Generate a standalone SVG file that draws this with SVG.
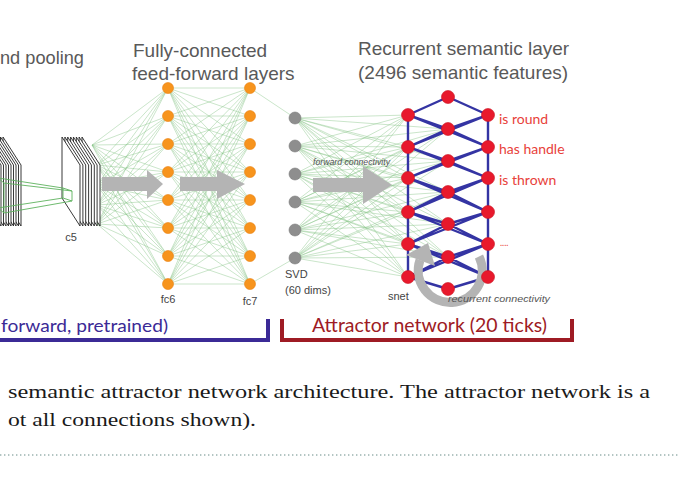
<svg xmlns="http://www.w3.org/2000/svg" width="680" height="500" viewBox="0 0 680 500">
<style>
.lbl{font-family:"Liberation Sans",Arial,sans-serif;font-size:19px;fill:#595959}
.sm{font-family:"Liberation Sans",Arial,sans-serif;font-size:11px;fill:#444}
.it{font-family:"Liberation Sans",Arial,sans-serif;font-size:9.5px;font-style:italic;fill:#555}
.feat{font-family:Lato,"Open Sans",sans-serif;font-size:14px;fill:#e8413a}
.cap{font-family:"Liberation Serif","Times New Roman",serif;font-size:19px;fill:#1a1a1a}
.grn{fill:none;stroke:#86c486;stroke-width:0.8;stroke-opacity:0.55}
.sheet{fill:#fff;stroke:#222;stroke-width:0.9}
.fc{fill:#f7941d;stroke:#e9800f;stroke-width:0.6}
.svd{fill:#8e8e8e;stroke:#7a7a7a;stroke-width:0.6}
.red{fill:#e8192c;stroke:#c8101f;stroke-width:0.6}
.lat{fill:none;stroke:#3434a3;stroke-width:2.4;stroke-linecap:round}
.garrow{fill:#b4b4b4}
</style>
<defs>
<polygon id="sheet" class="sheet" points="0,137 0,198 18,226 18,165"/>
</defs>
<rect width="680" height="500" fill="#fff"/>

<!-- connectors -->
<g id="connectors">
<path class="grn" d="M92 145 168 88M92 145 168 116M92 145 168 144M92 145 168 172M92 145 168 200M92 145 168 228M92 145 168 256M92 145 168 284
M97 165 168 88M97 165 168 116M97 165 168 144M97 165 168 172M97 165 168 200M97 165 168 228M97 165 168 256M97 165 168 284
M97 185 168 88M97 185 168 116M97 185 168 144M97 185 168 172M97 185 168 200M97 185 168 228M97 185 168 256M97 185 168 284
M97 205 168 88M97 205 168 116M97 205 168 144M97 205 168 172M97 205 168 200M97 205 168 228M97 205 168 256M97 205 168 284
M97 224 168 88M97 224 168 116M97 224 168 144M97 224 168 172M97 224 168 200M97 224 168 228M97 224 168 256M97 224 168 284"/>
<path class="grn" d="M168 88 250 88M168 88 250 116M168 88 250 144M168 88 250 172M168 88 250 200M168 88 250 228M168 88 250 256M168 88 250 284
M168 116 250 88M168 116 250 116M168 116 250 144M168 116 250 172M168 116 250 200M168 116 250 228M168 116 250 256M168 116 250 284
M168 144 250 88M168 144 250 116M168 144 250 144M168 144 250 172M168 144 250 200M168 144 250 228M168 144 250 256M168 144 250 284
M168 172 250 88M168 172 250 116M168 172 250 144M168 172 250 172M168 172 250 200M168 172 250 228M168 172 250 256M168 172 250 284
M168 200 250 88M168 200 250 116M168 200 250 144M168 200 250 172M168 200 250 200M168 200 250 228M168 200 250 256M168 200 250 284
M168 228 250 88M168 228 250 116M168 228 250 144M168 228 250 172M168 228 250 200M168 228 250 228M168 228 250 256M168 228 250 284
M168 256 250 88M168 256 250 116M168 256 250 144M168 256 250 172M168 256 250 200M168 256 250 228M168 256 250 256M168 256 250 284
M168 284 250 88M168 284 250 116M168 284 250 144M168 284 250 172M168 284 250 200M168 284 250 228M168 284 250 256M168 284 250 284"/>
<path class="grn" d="M250 88 295 118M250 284 295 258"/>
<path class="grn" d="M295 118 408 115M295 118 408 147M295 118 408 178M295 118 408 212M295 118 408 244M295 118 408 277
M295 146 408 115M295 146 408 147M295 146 408 178M295 146 408 212M295 146 408 244M295 146 408 277
M295 174 408 115M295 174 408 147M295 174 408 178M295 174 408 212M295 174 408 244M295 174 408 277
M295 202 408 115M295 202 408 147M295 202 408 178M295 202 408 212M295 202 408 244M295 202 408 277
M295 230 408 115M295 230 408 147M295 230 408 178M295 230 408 212M295 230 408 244M295 230 408 277
M295 258 408 115M295 258 408 147M295 258 408 178M295 258 408 212M295 258 408 244M295 258 408 277
M295 118 448 129M295 118 448 161M295 118 448 192M295 118 448 224M295 118 448 257
M295 146 448 129M295 146 448 161M295 146 448 192M295 146 448 224M295 146 448 257
M295 174 448 129M295 174 448 161M295 174 448 192M295 174 448 224M295 174 448 257
M295 202 448 129M295 202 448 161M295 202 448 192M295 202 448 224M295 202 448 257
M295 230 448 129M295 230 448 161M295 230 448 192M295 230 448 224M295 230 448 257
M295 258 448 129M295 258 448 161M295 258 448 192M295 258 448 224M295 258 448 257"/>
<!-- big gray arrows -->
<polygon class="garrow" points="102,177 147,177 147,170 163,184 147,199 147,191 102,191"/>
<polygon class="garrow" points="180,177 217,177 217,170 245,184 217,199 217,191 180,191"/>
<polygon class="garrow" points="313,178 363,178 363,166 392,185 363,204 363,192 313,192"/>
<!-- recurrent lattice -->
<path class="lat" d="M408 115 408 277M488 115 488 277
M448 97 408 115M448 97 488 115
M448 129 408 115M448 129 408 147M448 129 488 115M448 129 488 147
M448 161 408 147M448 161 408 178M448 161 488 147M448 161 488 178
M448 192 408 178M448 192 408 212M448 192 488 178M448 192 488 212
M448 224 408 212M448 224 408 244M448 224 488 212M448 224 488 244
M448 257 408 244M448 257 408 277M448 257 488 244M448 257 488 277
M448 289 408 277M448 289 488 277
M408 115 488 147M488 115 408 147
M408 147 488 178M488 147 408 178
M408 178 488 212M488 178 408 212
M408 212 488 244M488 212 408 244
M408 244 488 277M488 244 408 277"/>
<!-- recurrent connectivity arrow -->
<path d="M479 256.5 A32 32 0 1 1 420 260" fill="none" stroke="#b4b4b4" stroke-width="9"/>
<polygon class="garrow" points="428,243 435,266 406,255"/>
</g>

<!-- c4 stack (partial) -->
<g id="c4">
<use href="#sheet" x="3"/><use href="#sheet" x="0.5"/><use href="#sheet" x="-2"/><use href="#sheet" x="-4.5"/><use href="#sheet" x="-7"/><use href="#sheet" x="-9.5"/><use href="#sheet" x="-12"/><use href="#sheet" x="-14.5"/><use href="#sheet" x="-17"/><use href="#sheet" x="-19.5"/><use href="#sheet" x="-22"/>
</g>
<!-- c5 stack -->
<g id="c5">
<use href="#sheet" x="82"/><use href="#sheet" x="79.1"/><use href="#sheet" x="76.3"/><use href="#sheet" x="73.4"/><use href="#sheet" x="70.6"/><use href="#sheet" x="67.7"/><use href="#sheet" x="64.9"/><use href="#sheet" x="62"/>
<text class="sm" x="71" y="241" text-anchor="middle">c5</text>
</g>
<g id="receptive-field" fill="none" stroke="#5fb25f" stroke-width="0.9">
<path d="M-2 178 4 183 4 213 -2 208Z"/>
<path d="M63 188 72 191 72 201 63 198Z"/>
<path d="M4 183 72 191M4 213 72 201M-2 178 63 188M-2 208 63 198"/>
</g>

<!-- fc6 nodes -->
<g id="fc6">
<g id="fc6-1"><circle class="fc" cx="168" cy="88" r="5.5"/></g>
<g id="fc6-2"><circle class="fc" cx="168" cy="116" r="5.5"/></g>
<g id="fc6-3"><circle class="fc" cx="168" cy="144" r="5.5"/></g>
<g id="fc6-4"><circle class="fc" cx="168" cy="172" r="5.5"/></g>
<g id="fc6-5"><circle class="fc" cx="168" cy="200" r="5.5"/></g>
<g id="fc6-6"><circle class="fc" cx="168" cy="228" r="5.5"/></g>
<g id="fc6-7"><circle class="fc" cx="168" cy="256" r="5.5"/></g>
<g id="fc6-8"><circle class="fc" cx="168" cy="284" r="5.5"/></g>
<text class="sm" x="168" y="303" text-anchor="middle">fc6</text>
</g>
<!-- fc7 nodes -->
<g id="fc7">
<g id="fc7-1"><circle class="fc" cx="250" cy="88" r="5.5"/></g>
<g id="fc7-2"><circle class="fc" cx="250" cy="116" r="5.5"/></g>
<g id="fc7-3"><circle class="fc" cx="250" cy="144" r="5.5"/></g>
<g id="fc7-4"><circle class="fc" cx="250" cy="172" r="5.5"/></g>
<g id="fc7-5"><circle class="fc" cx="250" cy="200" r="5.5"/></g>
<g id="fc7-6"><circle class="fc" cx="250" cy="228" r="5.5"/></g>
<g id="fc7-7"><circle class="fc" cx="250" cy="256" r="5.5"/></g>
<g id="fc7-8"><circle class="fc" cx="250" cy="284" r="5.5"/></g>
<text class="sm" x="250" y="305" text-anchor="middle">fc7</text>
</g>
<!-- SVD nodes -->
<g id="svd">
<g id="svd-1"><circle class="svd" cx="295" cy="118" r="6"/></g>
<g id="svd-2"><circle class="svd" cx="295" cy="146" r="6"/></g>
<g id="svd-3"><circle class="svd" cx="295" cy="174" r="6"/></g>
<g id="svd-4"><circle class="svd" cx="295" cy="202" r="6"/></g>
<g id="svd-5"><circle class="svd" cx="295" cy="230" r="6"/></g>
<g id="svd-6"><circle class="svd" cx="295" cy="258" r="6"/></g>
<text class="sm" x="285" y="278">SVD</text>
<text class="sm" x="285" y="294">(60 dims)</text>
</g>
<!-- recurrent semantic layer nodes -->
<g id="snet">
<g id="sL1"><circle class="red" cx="408" cy="115" r="6.5"/></g>
<g id="sL2"><circle class="red" cx="408" cy="147" r="6.5"/></g>
<g id="sL3"><circle class="red" cx="408" cy="178" r="6.5"/></g>
<g id="sL4"><circle class="red" cx="408" cy="212" r="6.5"/></g>
<g id="sL5"><circle class="red" cx="408" cy="244" r="6.5"/></g>
<g id="sL6"><circle class="red" cx="408" cy="277" r="6.5"/></g>
<g id="sM1"><circle class="red" cx="448" cy="97" r="6.5"/></g>
<g id="sM2"><circle class="red" cx="448" cy="129" r="6.5"/></g>
<g id="sM3"><circle class="red" cx="448" cy="161" r="6.5"/></g>
<g id="sM4"><circle class="red" cx="448" cy="192" r="6.5"/></g>
<g id="sM5"><circle class="red" cx="448" cy="224" r="6.5"/></g>
<g id="sM6"><circle class="red" cx="448" cy="257" r="6.5"/></g>
<g id="sM7"><circle class="red" cx="448" cy="289" r="6.5"/></g>
<g id="sR1"><circle class="red" cx="488" cy="115" r="6.5"/></g>
<g id="sR2"><circle class="red" cx="488" cy="147" r="6.5"/></g>
<g id="sR3"><circle class="red" cx="488" cy="178" r="6.5"/></g>
<g id="sR4"><circle class="red" cx="488" cy="212" r="6.5"/></g>
<g id="sR5"><circle class="red" cx="488" cy="244" r="6.5"/></g>
<g id="sR6"><circle class="red" cx="488" cy="277" r="6.5"/></g>
<text class="sm" x="388" y="300">snet</text>
</g>

<!-- labels -->
<g id="labels">
<text class="lbl" x="0" y="64" textLength="84" lengthAdjust="spacingAndGlyphs">nd pooling</text>
<text class="lbl" x="133" y="57">Fully-connected</text>
<text class="lbl" x="132" y="80">feed-forward layers</text>
<text class="lbl" x="358" y="55">Recurrent semantic layer</text>
<text class="lbl" x="358" y="79">(2496 semantic features)</text>
<text class="it" x="313" y="165" textLength="77" lengthAdjust="spacingAndGlyphs">forward connectivity</text>
<text class="it" x="448" y="302" textLength="102" lengthAdjust="spacingAndGlyphs">recurrent connectivity</text>
<text class="feat" x="499" y="124">is round</text>
<text class="feat" x="499" y="154">has handle</text>
<text class="feat" x="499" y="185">is thrown</text>
<text class="feat" x="500" y="246" style="font-size:9px">....</text>
</g>

<!-- brackets -->
<g id="feedforward-bracket">
<path d="M0 340H268V319" fill="none" stroke="#3b2a96" stroke-width="4"/>
<text x="1" y="332" font-family="Lato,'Open Sans',sans-serif" font-size="18" fill="#3b2a96" textLength="167" lengthAdjust="spacingAndGlyphs">forward, pretrained)</text>
</g>
<g id="attractor-bracket">
<path d="M282 319V340H572V319" fill="none" stroke="#9e1b24" stroke-width="4"/>
<text x="312" y="332" font-family="Lato,'Open Sans',sans-serif" font-size="19" fill="#9e1b24" textLength="235" lengthAdjust="spacingAndGlyphs">Attractor network (20 ticks)</text>
</g>

<!-- caption -->
<g id="caption">
<text class="cap" x="8" y="398" textLength="642" lengthAdjust="spacingAndGlyphs">semantic attractor network architecture. The attractor network is a</text>
<text class="cap" x="8" y="426" textLength="248" lengthAdjust="spacingAndGlyphs">ot all connections shown).</text>
<line x1="0" y1="455" x2="680" y2="455" stroke="#9ab2b0" stroke-width="1.4" stroke-dasharray="1.4 2.6"/>
</g>
</svg>
